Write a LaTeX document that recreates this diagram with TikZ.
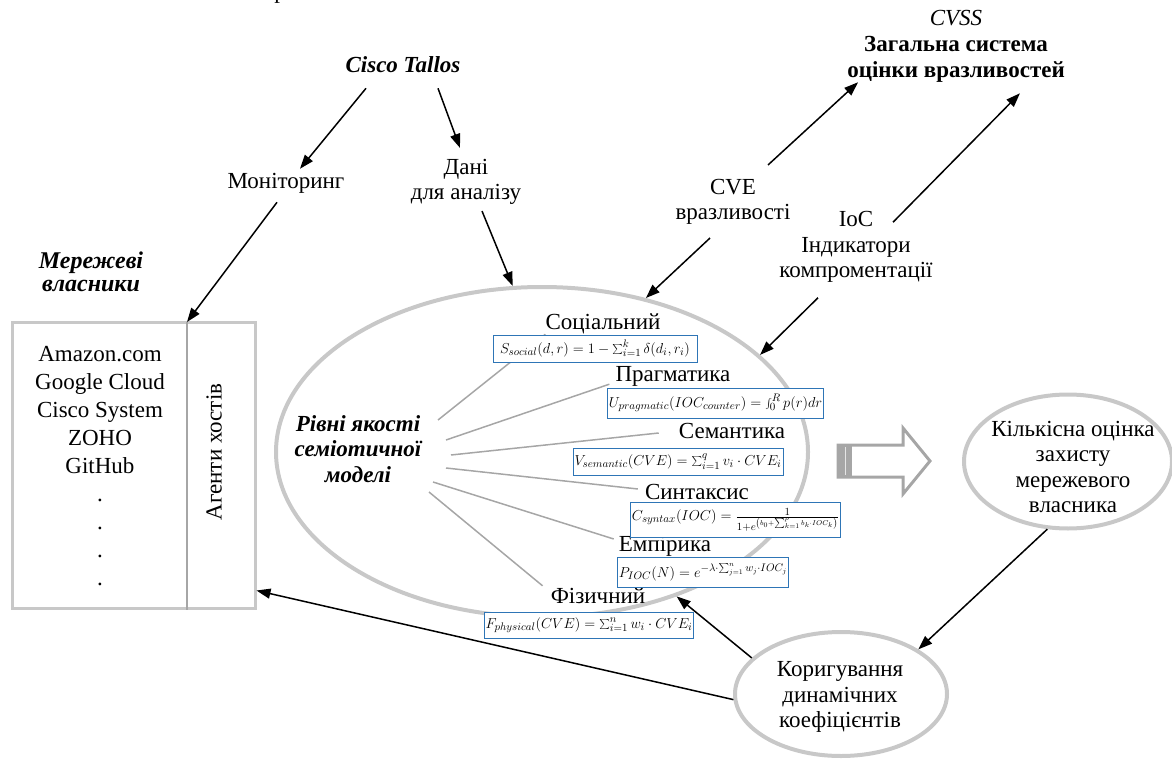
\documentclass[tikz,border=0pt]{standalone}
\usepackage{fontspec}
\setmainfont{Liberation Serif}
\usetikzlibrary{arrows.meta,shapes.geometric}

\definecolor{boxgray}{RGB}{200,200,200}
\definecolor{linegray}{RGB}{166,166,166}
\definecolor{formblue}{RGB}{46,117,182}

\tikzset{
  lbl/.style={inner sep=0pt, align=center, font=\fontsize{23}{25.5}\selectfont},
  head/.style={lbl, font=\fontsize{23}{25.5}\selectfont\bfseries\itshape},
  oval/.style={ellipse, draw=boxgray, line width=4pt, inner sep=0pt},
  formula/.style={draw=formblue, line width=1pt, fill=white, inner sep=1pt, font=\fontsize{15}{17}\selectfont},
  arr/.style={line width=1.5pt, -{Triangle[length=14pt,width=10pt]}},
  spoke/.style={draw=linegray, line width=1.5pt}
}

\begin{document}
\begin{tikzpicture}[x=1pt, y=-1pt]
  \useasboundingbox (0,0) rectangle (1172,762);

  \node[lbl, anchor=base] (frag) at (280,-1) {р};

  \node[head] (cisco) at (403,65) {Cisco Tallos};
  \node[lbl] (monit) at (286,183) {Моніторинг};
  \node[lbl] (dani) at (466,182) {Дані\\для аналізу};
  \node[lbl, font=\fontsize{23}{26}\selectfont] (cvss) at (956,46)
    {\textit{CVSS}\\\textbf{Загальна система}\\\textbf{оцінки вразливостей}};
  \node[lbl] (cve) at (733,202) {CVE\\вразливості};
  \node[lbl] (ioc) at (856,247) {IoC\\Індикатори\\компроментації};

  \node[head, font=\fontsize{24}{23.5}\selectfont\bfseries\itshape] (ownhead) at (91,272) {Мережеві\\власники};
  \node[draw=boxgray, line width=3pt, minimum width=243pt, minimum height=286pt, inner sep=0pt] (owners) at (133.5,465) {};
  \node[lbl, font=\fontsize{23}{28}\selectfont] (list) at (100,466)
    {Amazon.com\\Google Cloud\\Cisco System\\ZOHO\\GitHub\\.\\.\\.\\.};
  \coordinate (div) at (187,322);
  \draw[draw=linegray, line width=1.5pt] (div) -- (div |- owners.south);
  \node[lbl, rotate=90] (agents) at (214,452) {Агенти хостів};

  \node[oval, minimum width=532pt, minimum height=330pt] (model) at (542,452) {};
  \node[head] (levels) at (358,449) {Рівні якості\\семіотичної\\моделі};

  \node[lbl] (soc) at (603,324) {Соціальний};
  \node[lbl] (prag) at (673,376) {Прагматика};
  \node[lbl] (sem) at (732,431) {Семантика};
  \node[lbl] (syn) at (697,492) {Синтаксис};
  \node[lbl] (emp) at (665,546) {Емпірика};
  \node[lbl] (fiz) at (598,596) {Фізичний};

  \foreach \i/\x/\y in {1/438/420, 2/446/440, 3/451/455, 4/446/468, 5/433/482, 6/429/492}
    \coordinate (hub\i) at (\x,\y);
  \draw[spoke] (hub1) -- (soc.south west);
  \draw[spoke] (hub2) -- ([xshift=-6pt,yshift=2pt]prag.south west);
  \draw[spoke] (hub3) -- ([xshift=-20pt,yshift=-2pt]sem.west);
  \draw[spoke] (hub4) -- ([xshift=-7pt,yshift=3pt]syn.west);
  \draw[spoke] (hub5) -- ([xshift=-5pt,yshift=7pt]emp.west);
  \draw[spoke] (hub6) -- ([xshift=-8pt,yshift=2pt]fiz.north west);

  \node[formula, minimum width=204pt, minimum height=27pt] (fsoc) at (595,348.5)
    {$S_{social}(d,r)=1-\sum_{i=1}^{k}\delta(d_i,r_i)$};
  \node[formula, minimum width=205pt, minimum height=30pt] (fprag) at (715.5,403)
    {$U_{pragmatic}(IOC_{counter})=\int_0^R p(r)dr$};
  \node[formula, minimum width=210pt, minimum height=27pt] (fsem) at (678,461.5)
    {$V_{semantic}(CVE)=\sum_{i=1}^{q}v_i\cdot CVE_i$};
  \node[formula, minimum width=195pt, minimum height=35pt] (fsyn) at (735.5,519.5)
    {$C_{syntax}(IOC)=\frac{1}{1+e^{\left(b_0+\sum_{k=1}^{p}b_k\cdot IOC_k\right)}}$};
  \node[formula, minimum width=170pt, minimum height=30pt] (femp) at (703,572)
    {$P_{IOC}(N)=e^{-\lambda\cdot\sum_{j=1}^{n}w_j\cdot IOC_j}$};
  \node[formula, minimum width=202pt, minimum height=26pt] (ffiz) at (589,625)
    {$F_{physical}(CVE)=\sum_{i=1}^{n}w_i\cdot CVE_i$};

  \fill[gray!70] (838,445) rectangle (852,477);
  \draw[white!80!gray, line width=1pt] (845,447) -- (845,475);
  \draw[draw=linegray, line width=3pt] (838,445) -- (903,445) -- (903,428) -- (930,461)
    -- (903,494) -- (903,477) -- (838,477) -- cycle;

  \node[oval, minimum width=208pt, minimum height=134pt] (quant) at (1068,461.5) {};
  \node[lbl] (quanttext) at (1073,467) {Кількісна оцінка\\захисту\\мережевого\\власника};
  \node[oval, minimum width=212pt, minimum height=124pt] (adjust) at (841,694) {};
  \node[lbl] (adjusttext) at (840,697) {Коригування\\динамічних\\коефіцієнтів};

  \draw[arr] ([xshift=-37pt,yshift=-15pt]cisco.south) -- ([xshift=14pt,yshift=4pt]monit.north);
  \draw[arr] ([xshift=35pt,yshift=-15pt]cisco.south) -- ([xshift=-6pt,yshift=11pt]dani.north);
  \draw[arr] ([xshift=-9pt,yshift=-9pt]monit.south) -- (div);
  \draw[arr] ([xshift=16pt,yshift=-6pt]dani.south) -- (model.100);
  \draw[arr] ([xshift=35pt,yshift=14pt]cve.north) -- ([xshift=11pt]cvss.south west);
  \draw[arr] ([xshift=37pt,yshift=-11pt]ioc.north) -- ([xshift=-45pt,yshift=-11pt]cvss.south east);
  \draw[arr] ([xshift=-23pt,yshift=-13pt]cve.south) -- (model.56);
  \draw[arr] ([xshift=-38pt,yshift=-15pt]ioc.south) -- (model.24);
  \draw[arr] (quant.253) -- (adjust.30);
  \draw[arr] (adjust.158) -- (model.313);
  \draw[arr] (adjust.183) -- ([yshift=19pt]owners.south east);
\end{tikzpicture}
\end{document}
